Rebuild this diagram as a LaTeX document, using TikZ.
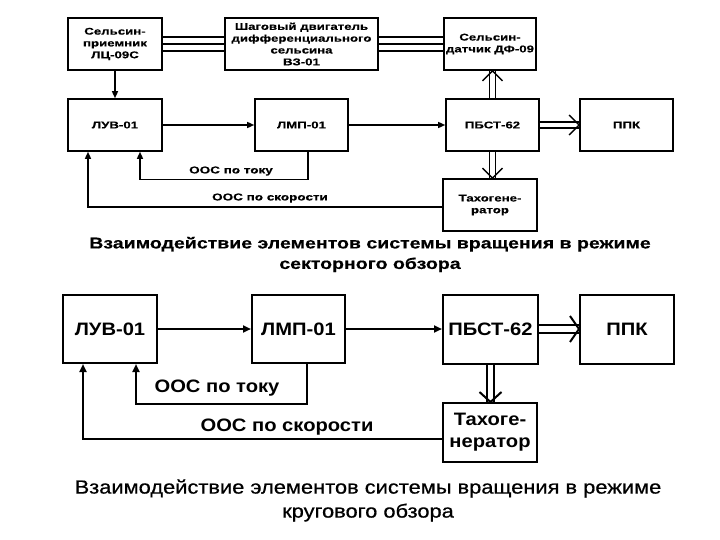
\documentclass[tikz,border=0pt]{standalone}
\usepackage{fontspec}
\setmainfont{Liberation Sans}
\newfontfamily\topfont[FakeStretch=1.35,FakeBold=0.3]{Liberation Sans}
\newfontfamily\titleafont[FakeStretch=1.26,FakeBold=0.4]{Liberation Sans}
\newfontfamily\botfont[FakeStretch=1.12]{Liberation Sans}
\newfontfamily\titlebfont[FakeStretch=1.15,FakeBold=0.6]{Liberation Sans}
\usetikzlibrary{arrows.meta}
\tikzset{
  boxs/.style={draw, line width=1.6pt, align=center, inner sep=1pt,
    font=\topfont\bfseries\fontsize{9.8}{11.8}\selectfont},
  boxb/.style={draw, line width=2pt, align=center, inner sep=1pt,
    font=\botfont\bfseries\fontsize{18}{22}\selectfont},
  lns/.style={line width=1.4pt},
  lnb/.style={line width=2pt},
  arrs/.style={lns, -{Triangle[length=7pt,width=6pt]}},
  arrb/.style={lnb, -{Triangle[length=8pt,width=7pt]}},
  dbls/.style={line width=1.3pt, double, double distance=4.5pt},
  dblb/.style={line width=2pt, double, double distance=5.5pt},
  lbls/.style={font=\topfont\bfseries\fontsize{10}{12}\selectfont},
  lblb/.style={font=\botfont\bfseries\fontsize{18}{22}\selectfont},
}
\begin{document}
\begin{tikzpicture}[x=1pt,y=-1pt]
\useasboundingbox[fill=white] (0,0) rectangle (720,540);
% ---------- top diagram ----------
\node[boxs, minimum width=94pt, minimum height=52pt] (sp) at (115,44) {Сельсин-\\приемник\\ЛЦ-09С};
\node[boxs, minimum width=153pt, minimum height=52pt] (shd) at (301.5,44) {Шаговый двигатель\\дифференциального\\сельсина\\ВЗ-01};
\node[boxs, minimum width=92pt, minimum height=52pt] (sd) at (490,44) {Сельсин-\\датчик ДФ-09};
\node[boxs, minimum width=94pt, minimum height=52pt] (luv) at (115,125) {ЛУВ-01};
\node[boxs, minimum width=93pt, minimum height=52pt] (lmp) at (301.5,125) {ЛМП-01};
\node[boxs, minimum width=93pt, minimum height=52pt] (pbst) at (492.5,125) {ПБСТ-62};
\node[boxs, minimum width=93pt, minimum height=52pt] (ppk) at (626.5,125) {ППК};
\node[boxs, minimum width=94pt, minimum height=52pt] (tg) at (490,205) {Тахогене-\\ратор};
% triple lines
\foreach \dy in {7,0,-7} {
  \draw[lns] ([yshift=\dy pt]sp.east) -- ([yshift=\dy pt]shd.west);
  \draw[lns] ([yshift=\dy pt]shd.east) -- ([yshift=\dy pt]sd.west);
}
\draw[arrs] (sp.south) -- (luv.north);
\draw[arrs] (luv.east) -- (lmp.west);
\draw[arrs] (lmp.east) -- (pbst.west);
% double arrows
\draw[dbls] (pbst.east) -- (ppk.west);
\draw[lns] ([xshift=-10pt,yshift=10pt]ppk.west) -- (ppk.west) -- ([xshift=-10pt,yshift=-10pt]ppk.west);
\draw[dbls] (pbst.north) -- (pbst.north |- sd.south) coordinate (sdin);
\draw[lns] ([xshift=-10pt,yshift=-10pt]sdin) -- (sdin) -- ([xshift=10pt,yshift=-10pt]sdin);
\draw[dbls] (pbst.south) -- (pbst.south |- tg.north) coordinate (tgin);
\draw[lns] ([xshift=-10pt,yshift=10pt]tgin) -- (tgin) -- ([xshift=10pt,yshift=10pt]tgin);
% feedback
\draw[arrs] ([xshift=6.5pt]lmp.south) -- ++(0,28) -| ([xshift=25pt]luv.south);
\draw[arrs] ([yshift=-2pt]tg.west) -| ([xshift=-27pt]luv.south);
\node[lbls] (t1) at (231,171) {ООС по току};
\node[lbls] (t2) at (270,198) {ООС по скорости};
\node[font=\titleafont\bfseries\fontsize{15.5}{20.5}\selectfont, align=center] (title1) at (370,254.5)
  {Взаимодействие элементов системы вращения в режиме\\секторного обзора};
% ---------- bottom diagram ----------
\node[boxb, minimum width=94pt, minimum height=68pt] (luv2) at (110,329) {ЛУВ-01};
\node[boxb, minimum width=93pt, minimum height=68pt] (lmp2) at (298.5,329) {ЛМП-01};
\node[boxb, minimum width=95pt, minimum height=69pt] (pbst2) at (490.5,329) {ПБСТ-62};
\node[boxb, minimum width=94pt, minimum height=69pt] (ppk2) at (627,329) {ППК};
\node[boxb, minimum width=94pt, minimum height=59pt] (tg2) at (490,432.5) {Тахоге-\\нератор};
\draw[arrb] (luv2.east) -- (lmp2.west);
\draw[arrb] (lmp2.east) -- (pbst2.west);
\draw[dblb] (pbst2.east) -- (ppk2.west);
\draw[lnb] ([xshift=-9pt,yshift=13pt]ppk2.west) -- (ppk2.west) -- ([xshift=-9pt,yshift=-13pt]ppk2.west);
\draw[dblb] (pbst2.south) -- (pbst2.south |- tg2.north) coordinate (tgin2);
\draw[lnb] ([xshift=-11pt,yshift=10pt]tgin2) -- (tgin2) -- ([xshift=11pt,yshift=10pt]tgin2);
\draw[arrb] ([xshift=8.5pt]lmp2.south) -- ++(0,40) -| ([xshift=26pt]luv2.south);
\draw[arrb] ([yshift=-6.5pt]tg2.west) -| ([xshift=-27pt]luv2.south);
\node[lblb] (b1) at (217,388) {ООС по току};
\node[lblb] (b2) at (287,427) {ООС по скорости};
\node[font=\titlebfont\fontsize{19}{24}\selectfont, align=center] (title2) at (368,500.5)
  {Взаимодействие элементов системы вращения в режиме\\кругового обзора};
\end{tikzpicture}
\end{document}
